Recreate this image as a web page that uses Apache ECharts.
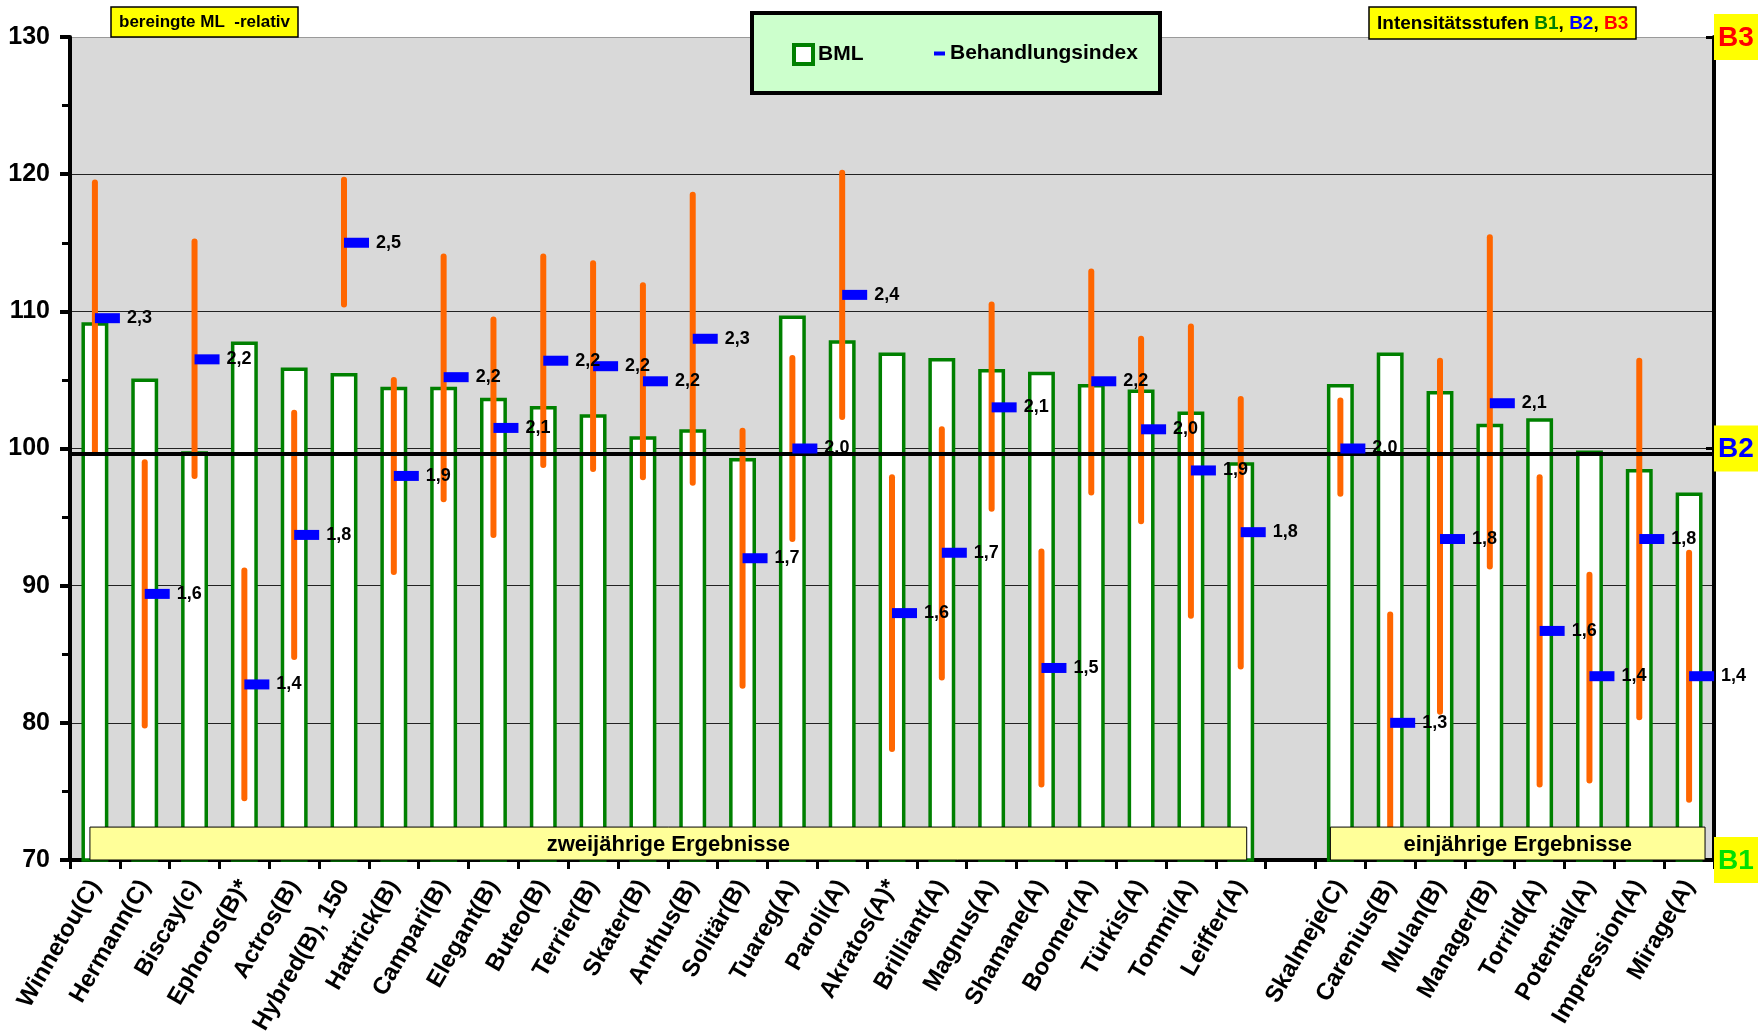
<!DOCTYPE html>
<html>
<head>
<meta charset="utf-8">
<script src="https://cdn.jsdelivr.net/npm/echarts@6/dist/echarts.min.js"></script>
<style>
  html, body { margin: 0; padding: 0; background: #fff; }
  #chart { width: 1758px; height: 1032px; }
</style>
</head>
<body>
<div id="chart"></div>
<script>
// Sorten (leere Kategorie = Lücke zwischen zwei- und einjährigen Ergebnissen)
const categories = ['Winnetou(C)', 'Hermann(C)', 'Biscay(c)', 'Ephoros(B)*', 'Actros(B)', 'Hybred(B), 150',
  'Hattrick(B)', 'Campari(B)', 'Elegant(B)', 'Buteo(B)', 'Terrier(B)', 'Skater(B)', 'Anthus(B)', 'Solitär(B)',
  'Tuareg(A)', 'Paroli(A)', 'Akratos(A)*', 'Brilliant(A)', 'Magnus(A)', 'Shamane(A)', 'Boomer(A)', 'Türkis(A)',
  'Tommi(A)', 'Leiffer(A)', '', 'Skalmeje(C)', 'Carenius(B)', 'Mulan(B)', 'Manager(B)', 'Torrild(A)',
  'Potential(A)', 'Impression(A)', 'Mirage(A)'];

// BML relativ
const bml = [109.2, 105.1, 99.8, 107.8, 105.9, 105.5, 104.5, 104.5, 103.7, 103.1, 102.5, 100.9, 101.4, 99.3,
  109.7, 107.9, 107.0, 106.6, 105.8, 105.6, 104.7, 104.3, 102.7, 99.0, null, 104.7, 107.0, 104.2, 101.8, 102.2,
  99.85, 98.5, 96.8];

// Behandlungsindex: Lage auf der Achse und Beschriftung
const indexPos = [109.5, 89.4, 106.5, 82.8, 93.7, 115.0, 98.0, 105.2, 101.5, 106.4, 106.0, 104.9, 108.0, 92.0,
  100.0, 111.2, 88.0, 92.4, 103.0, 84.0, 104.9, 101.4, 98.4, 93.9, null, 100.0, 80.0, 93.4, 103.3, 86.7,
  83.4, 93.4, 83.4];
const indexLabels = ['2,3', '1,6', '2,2', '1,4', '1,8', '2,5', '1,9', '2,2', '2,1', '2,2', '2,2', '2,2', '2,3', '1,7',
  '2,0', '2,4', '1,6', '1,7', '2,1', '1,5', '2,2', '2,0', '1,9', '1,8', '', '2,0', '1,3', '1,8', '2,1', '1,6',
  '1,4', '1,8', '1,4'];

// Streuung (orange Linien)
const rangeLow = [99.8, 79.8, 98.0, 74.5, 84.8, 110.5, 91.0, 96.3, 93.7, 98.8, 98.5, 97.9, 97.5, 82.7,
  93.4, 102.3, 78.1, 83.3, 95.6, 75.5, 96.8, 94.7, 87.8, 84.1, null, 96.7, 71.0, 80.8, 91.4, 75.5,
  75.8, 80.4, 74.4];
const rangeHigh = [119.4, 99.0, 115.1, 91.1, 102.6, 119.6, 105.0, 114.0, 109.4, 114.0, 113.5, 111.9, 118.5, 101.3,
  106.6, 120.1, 97.9, 101.4, 110.5, 92.5, 112.9, 108.0, 108.9, 103.6, null, 103.5, 87.9, 106.4, 115.4, 97.9,
  90.8, 106.4, 92.4];

const yTicks = [70, 80, 90, 100, 110, 120, 130];
const stufen = { 70: '{g|B1}', 100: '{b|B2}', 130: '{r|B3}' };
const b2Line = 99.6;

const FONT = "'Liberation Sans Narrow', 'Liberation Sans', Arial, sans-serif";
const FW = 'bold';

const chart = echarts.init(document.getElementById('chart'));

const legendBox = {
  id: 'legendBox', type: 'rect', z: 1,
  shape: { x: 752, y: 13, width: 408, height: 80 },
  style: { fill: '#CCFFCC', stroke: '#000', lineWidth: 4 }
};

const stufeStyle = color => ({
  fontFamily: FONT, fontSize: 28, fontWeight: FW, color,
  backgroundColor: '#FFFF00', width: 38, height: 30, lineHeight: 30,
  align: 'center', padding: [9, 3, 7, 3]
});

const option = {
  animation: false,
  textStyle: { fontFamily: FONT, fontWeight: FW, color: '#000' },
  title: [
    {
      text: 'bereingte ML  -relativ',
      left: 111, top: 7,
      backgroundColor: '#FFFF00', borderColor: '#000', borderWidth: 1.5,
      padding: [7, 8, 6, 8],
      textStyle: { fontFamily: FONT, fontSize: 17, fontWeight: FW, color: '#000' }
    },
    {
      text: 'Intensitätsstufen {g|B1}, {b|B2}, {r|B3}',
      left: 1369, top: 7,
      backgroundColor: '#FFFF00', borderColor: '#000', borderWidth: 1.5,
      padding: [7, 8, 6, 8],
      textStyle: {
        fontFamily: FONT, fontSize: 19, fontWeight: FW, color: '#000',
        rich: {
          g: { fontFamily: FONT, fontSize: 19, fontWeight: FW, color: '#008000' },
          b: { fontFamily: FONT, fontSize: 19, fontWeight: FW, color: '#0000FF' },
          r: { fontFamily: FONT, fontSize: 19, fontWeight: FW, color: '#FF0000' }
        }
      }
    }
  ],
  legend: [
    {
      data: ['BML'],
      left: 787, top: 38, z: 10,
      icon: 'rect', itemWidth: 19, itemHeight: 19, itemGap: 10,
      itemStyle: { color: '#fff', borderColor: '#008000', borderWidth: 4 },
      textStyle: { fontFamily: FONT, fontSize: 21, fontWeight: FW, color: '#000' }
    },
    {
      data: ['Behandlungsindex'],
      left: 929, top: 38, z: 10,
      icon: 'rect', itemWidth: 11, itemHeight: 4, itemGap: 6,
      itemStyle: { color: '#0000FF', opacity: 1 },
      textStyle: { fontFamily: FONT, fontSize: 21, fontWeight: FW, color: '#000' }
    }
  ],
  graphic: [legendBox],
  grid: {
    left: 70, right: 44, top: 37, bottom: 172,
    outerBoundsMode: 'none',
    containLabel: false,
    show: true, backgroundColor: '#D9D9D9', borderWidth: 0
  },
  xAxis: {
    type: 'category',
    data: categories,
    boundaryGap: true,
    axisLine: { lineStyle: { color: '#000', width: 4 } },
    axisTick: { show: true, interval: 0, length: 9, lineStyle: { color: '#000', width: 3 } },
    axisLabel: {
      interval: 0, rotate: 60, margin: 22,
      fontFamily: FONT, fontSize: 24, fontWeight: FW, color: '#000'
    }
  },
  yAxis: [
    {
      type: 'value', min: 70, max: 130, interval: 10,
      axisLine: { show: true, lineStyle: { color: '#000', width: 4 } },
      axisTick: { show: true, length: 10, lineStyle: { color: '#000', width: 4 } },
      minorTick: { show: true, splitNumber: 2, length: 8, lineStyle: { color: '#000', width: 3 } },
      axisLabel: {
        margin: 20, fontFamily: FONT, fontSize: 25, fontWeight: FW, color: '#000',
        formatter: v => (yTicks.includes(v) ? String(v) : '')
      },
      splitLine: {
        show: true,
        lineStyle: { color: ['#000', '#222', '#222', '#222', '#222', '#222', '#9a9a9a'], width: 1 }
      }
    },
    {
      type: 'value', min: 70, max: 130, interval: 30, position: 'right',
      axisLine: { show: true, lineStyle: { color: '#000', width: 4 } },
      axisTick: { show: true, inside: true, length: 8, lineStyle: { color: '#000', width: 3 } },
      splitLine: { show: false },
      axisLabel: {
        margin: 0,
        formatter: v => stufen[v] || '',
        rich: { g: stufeStyle('#00E000'), b: stufeStyle('#0000FF'), r: stufeStyle('#FF0000') }
      }
    }
  ],
  series: [
    {
      name: 'BML',
      type: 'bar',
      data: bml,
      barWidth: '54%',
      z: 2,
      itemStyle: { color: '#fff', borderColor: '#008000', borderWidth: 3.5 },
      markLine: {
        z: 4,
        silent: true,
        symbol: 'none',
        label: { show: false },
        lineStyle: { color: '#000', width: 4, type: 'solid' },
        data: [{ yAxis: b2Line }]
      }
    },
    {
      name: 'Streuung',
      type: 'custom',
      z: 3,
      data: categories.map((c, i) => [i, rangeLow[i], rangeHigh[i]]).filter(d => d[1] !== null),
      renderItem: (params, api) => {
        const lo = api.coord([api.value(0), api.value(1)]);
        const hi = api.coord([api.value(0), api.value(2)]);
        return {
          type: 'line',
          shape: { x1: lo[0], y1: lo[1], x2: hi[0], y2: hi[1] },
          style: { stroke: '#FF6600', lineWidth: 6, lineCap: 'round' }
        };
      }
    },
    {
      name: 'Behandlungsindex',
      type: 'scatter',
      z: 6,
      data: indexPos.map((v, i) => (v === null ? [i, null] : [i, v])),
      symbol: 'rect',
      symbolSize: [25, 10],
      symbolOffset: [12.5, 0],
      itemStyle: { color: '#0000FF', opacity: 1 },
      label: {
        show: true, position: 'right', distance: 7,
        fontFamily: FONT, fontSize: 18, fontWeight: FW, color: '#000',
        formatter: p => indexLabels[p.dataIndex]
      }
    }
  ]
};

chart.setOption(option);

// Beschriftungsfelder unter den Balken, Lage aus der Kategorieachse
const bw = chart.convertToPixel({ xAxisIndex: 0 }, categories[1]) - chart.convertToPixel({ xAxisIndex: 0 }, categories[0]);
const yTop = chart.convertToPixel({ yAxisIndex: 0 }, 72.4);
const yBot = chart.convertToPixel({ yAxisIndex: 0 }, 70);
const box = (id, from, to, padL, padR, text) => {
  const x1 = chart.convertToPixel({ xAxisIndex: 0 }, from) - padL * bw;
  const x2 = chart.convertToPixel({ xAxisIndex: 0 }, to) + padR * bw;
  return {
    id, type: 'group', z: 20,
    children: [
      {
        type: 'rect', z: 20,
        shape: { x: x1, y: yTop, width: x2 - x1, height: yBot - yTop },
        style: { fill: '#FFFF99', stroke: '#000', lineWidth: 1 }
      },
      {
        type: 'text', z: 21,
        x: (x1 + x2) / 2, y: (yTop + yBot) / 2 + 1,
        style: {
          text, fontFamily: FONT, fontSize: 22, fontWeight: FW, fill: '#000',
          align: 'center', verticalAlign: 'middle'
        }
      }
    ]
  };
};
chart.setOption({
  graphic: [
    legendBox,
    box('zwei', 'Winnetou(C)', 'Leiffer(A)', 0.1, 0.12, 'zweijährige Ergebnisse'),
    box('ein', 'Skalmeje(C)', 'Mirage(A)', 0.2, 0.32, 'einjährige Ergebnisse')
  ]
});
</script>
</body>
</html>
